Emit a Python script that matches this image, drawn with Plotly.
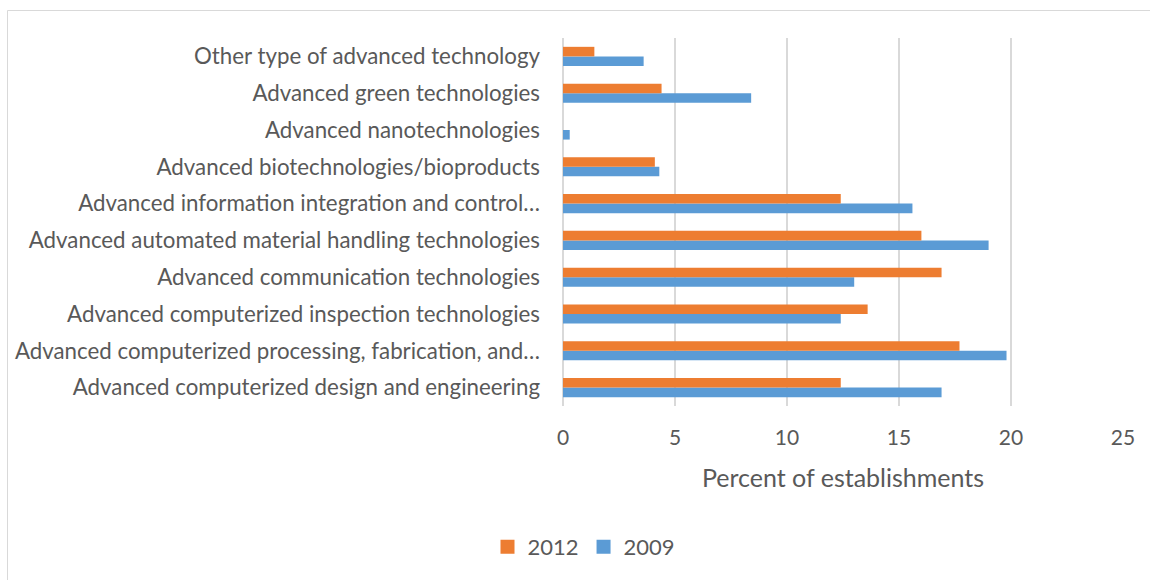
import plotly.graph_objects as go

# Technology categories, bottom to top as drawn on the y axis
categories = [
    "Advanced computerized design and engineering",
    "Advanced computerized processing, fabrication, and…",
    "Advanced computerized inspection technologies",
    "Advanced communication technologies",
    "Advanced automated material handling technologies",
    "Advanced information integration and control…",
    "Advanced biotechnologies/bioproducts",
    "Advanced nanotechnologies",
    "Advanced green technologies",
    "Other type of advanced technology",
]

pct_2009 = [16.9, 19.8, 12.4, 13.0, 19.0, 15.6, 4.3, 0.3, 8.4, 3.6]
pct_2012 = [12.4, 17.7, 13.6, 16.9, 16.0, 12.4, 4.1, 0.0, 4.4, 1.4]

x_ticks = [0, 5, 10, 15, 20, 25]

ORANGE = "#ED7D31"
BLUE = "#5B9BD5"
TEXT = "#595959"
GRID = "#D9D9D9"
FONT = "Lato, 'Open Sans', sans-serif"

fig = go.Figure()
fig.add_trace(go.Bar(
    y=categories, x=pct_2009, name="2009", orientation="h",
    marker=dict(color=BLUE, line=dict(width=0)), showlegend=False,
))
fig.add_trace(go.Bar(
    y=categories, x=pct_2012, name="2012", orientation="h",
    marker=dict(color=ORANGE, line=dict(width=0)), showlegend=False,
))
# Legend keys drawn as larger square swatches
for name, color in [("2012", ORANGE), ("2009", BLUE)]:
    fig.add_trace(go.Scatter(
        x=[None], y=[None], mode="markers", name=name,
        marker=dict(symbol="square", size=14, color=color),
    ))

L, R, T, B = 563, 27, 38, 174
W, H = 1150, 580
pw, ph = W - L - R, H - T - B

def px_x(p):
    return (p - L) / pw

def px_y(p):
    return (H - B - p) / ph

fig.update_layout(
    width=W, height=H,
    margin=dict(l=L, r=R, t=T, b=B, pad=0),
    paper_bgcolor="white", plot_bgcolor="white",
    barmode="group", bargap=0.48, bargroupgap=0,
    font=dict(family=FONT, color=TEXT, size=22),
    showlegend=True,
    legend=dict(
        orientation="h", traceorder="normal",
        x=px_x(584), xanchor="center", y=px_y(547), yanchor="middle",
        font=dict(size=22, color=TEXT), itemwidth=30,
    ),
    xaxis=dict(
        range=[0, 25], tickvals=x_ticks, showgrid=True, gridcolor=GRID,
        gridwidth=2, zeroline=True, zerolinecolor=GRID, zerolinewidth=2,
        showline=False, ticks="", tickfont=dict(size=21, color=TEXT),
        ticklabelstandoff=17,
        title=dict(text="Percent of establishments", font=dict(size=25, color=TEXT), standoff=21),
        fixedrange=True,
    ),
    yaxis=dict(
        type="category", categoryorder="array", categoryarray=categories,
        showgrid=False, showline=False, ticks="", zeroline=False,
        tickfont=dict(size=22.3, color=TEXT), ticklabelstandoff=22,
        fixedrange=True,
    ),
    shapes=[dict(
        type="rect", xref="paper", yref="paper",
        x0=px_x(7.5), x1=px_x(1153), y0=px_y(583), y1=px_y(10.5),
        line=dict(color=GRID, width=1), fillcolor="rgba(0,0,0,0)", layer="below",
    )],
)

fig.write_html("out.html", config=dict(displayModeBar=False))
